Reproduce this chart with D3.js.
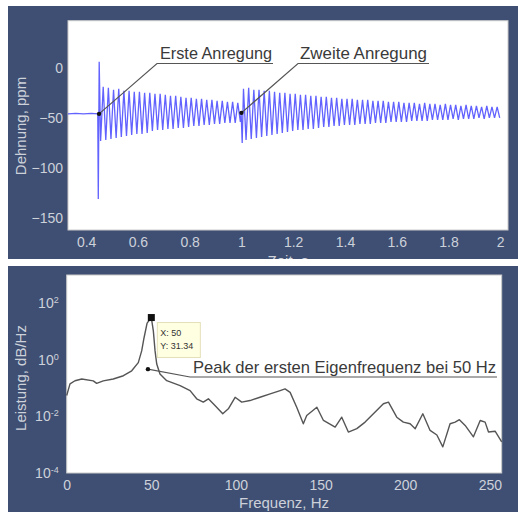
<!DOCTYPE html>
<meta charset="utf-8">
<style>
    body { margin: 0; background: #fff; }
    .tick text { fill: #cdd1da; font-family: "Liberation Sans", Arial, sans-serif; font-size: 14px; }
    .axis-label { fill: #cdd1da; font-family: "Liberation Sans", Arial, sans-serif; font-size: 15px; }
    .note { fill: #3a3a3a; font-family: "Liberation Sans Narrow", "Liberation Sans", sans-serif; font-size: 17px; }
    .tip { fill: #333; font-family: "Liberation Sans", Arial, sans-serif; font-size: 9px; }
</style>
<body>
<svg width="518" height="512"></svg>
</body>
<script src="https://cdn.jsdelivr.net/npm/d3@7"></script>
<script>

    // strain signal, peaks and troughs [time s, ppm]
    var strainBefore = [[0.33, -46], [0.36, -45.5], [0.39, -46], [0.42, -45.5], [0.445, -46]];
    var strainImpulse = [[0.447, -131], [0.4505, 6], [0.456, -73]];
    var strainFirst = [
        [0.466, -19], [0.476, -72], [0.486, -20], [0.496, -71], [0.506, -22], [0.516, -70],
        [0.526, -21], [0.536, -69], [0.546, -23], [0.556, -68], [0.566, -23], [0.576, -67],
        [0.586, -24], [0.596, -66], [0.606, -24], [0.616, -66], [0.626, -25], [0.636, -65],
        [0.646, -25], [0.656, -63], [0.666, -26], [0.676, -62], [0.686, -26], [0.696, -62],
        [0.706, -27], [0.716, -61], [0.726, -28], [0.736, -61], [0.746, -28], [0.756, -60],
        [0.766, -29], [0.776, -60], [0.786, -30], [0.796, -59], [0.806, -30], [0.816, -58],
        [0.826, -31], [0.836, -58], [0.846, -31], [0.856, -57], [0.866, -32], [0.876, -57],
        [0.886, -32], [0.896, -56], [0.906, -33], [0.916, -56], [0.926, -33], [0.936, -55],
        [0.946, -34], [0.956, -55], [0.966, -34], [0.976, -55], [0.986, -35], [0.996, -54]
    ];
    var strainSecond = [
        [0.999, -46], [1.003, -75],
        [1.008, -21], [1.018, -72], [1.028, -20], [1.038, -71], [1.048, -22], [1.058, -70],
        [1.068, -22], [1.078, -69], [1.088, -23], [1.098, -68], [1.108, -23], [1.118, -67],
        [1.128, -24], [1.138, -66], [1.148, -25], [1.158, -65], [1.168, -25], [1.178, -64],
        [1.188, -26], [1.198, -63], [1.208, -26], [1.218, -62], [1.228, -27], [1.238, -62],
        [1.248, -27], [1.258, -61], [1.268, -28], [1.278, -61], [1.288, -28], [1.298, -60],
        [1.308, -29], [1.318, -59], [1.328, -29], [1.338, -59], [1.348, -30], [1.358, -58],
        [1.368, -30], [1.378, -58], [1.388, -31], [1.398, -57], [1.408, -31], [1.418, -57],
        [1.428, -31], [1.438, -57], [1.448, -32], [1.458, -56], [1.468, -32], [1.478, -56],
        [1.488, -32], [1.498, -56], [1.508, -33], [1.518, -55], [1.528, -33], [1.538, -55],
        [1.548, -33], [1.558, -55], [1.568, -34], [1.578, -54], [1.588, -34], [1.598, -54],
        [1.608, -34], [1.618, -54], [1.628, -35], [1.638, -54], [1.648, -35], [1.658, -53],
        [1.668, -35], [1.678, -53], [1.688, -36], [1.698, -53], [1.708, -35], [1.718, -53],
        [1.728, -36], [1.738, -52], [1.748, -36], [1.758, -52], [1.768, -37], [1.778, -52],
        [1.788, -36], [1.798, -52], [1.808, -37], [1.818, -51], [1.828, -37], [1.838, -52],
        [1.848, -38], [1.858, -51], [1.868, -37], [1.878, -51], [1.888, -38], [1.898, -51],
        [1.908, -38], [1.918, -50], [1.928, -39], [1.938, -51], [1.948, -38], [1.958, -50],
        [1.968, -39], [1.978, -50], [1.988, -39], [1.998, -50]
    ];
    var timeTicks = [0.4, 0.6, 0.8, 1, 1.2, 1.4, 1.6, 1.8, 2];
    var strainTicks = [-150, -100, -50, 0];

    // power spectrum [Hz, value]
    var spectrum = [
        [0, 0.055], [1.95, 0.141], [4.9, 0.183], [8.9, 0.21], [15.7, 0.18], [17.7, 0.147],
        [21.6, 0.18], [27.5, 0.21], [33.5, 0.275], [38.4, 0.41], [42.3, 0.8], [44.3, 2.07],
        [45.7, 6.05], [47.5, 20], [50, 31.34], [51.2, 10.4], [52.2, 2.07], [53.2, 0.71],
        [55.1, 0.315], [59.1, 0.183], [67, 0.122], [72.9, 0.082], [76.8, 0.042], [80.7, 0.032],
        [83.7, 0.042], [87.6, 0.0243], [92.2, 0.0124], [95.5, 0.0186], [99.5, 0.0475], [103.4, 0.032],
        [108.3, 0.0364], [114.2, 0.0475], [120.2, 0.0625], [126.1, 0.082], [129, 0.094], [132, 0.071],
        [135.9, 0.0212], [139.8, 0.0055], [141.8, 0.0108], [147.8, 0.0212], [151.7, 0.0072], [158.6, 0.0042],
        [162.5, 0.0094], [166.4, 0.0028], [171.4, 0.0037], [176.3, 0.0063], [181.2, 0.0124], [187.1, 0.028],
        [190.1, 0.032], [195, 0.0094], [198.9, 0.0063], [202.9, 0.0055], [205.9, 0.0037], [210.4, 0.0124],
        [214.7, 0.0032], [218.7, 0.0022], [222.2, 0.00084], [226.5, 0.0055], [229.5, 0.0063], [232, 0.0077],
        [235.4, 0.0048], [240.3, 0.0019], [244.3, 0.0072], [247.2, 0.0063], [249.2, 0.0028], [253.1, 0.003],
        [257, 0.00126]
    ];
    var freqTicks = [0, 50, 100, 150, 200, 250];
    var powerTicks = [1e-4, 1e-2, 1, 1e2];
    var peak = {f: 50, p: 31.34};

    var svg = d3.select("svg");
    var panelColor = "#3e4f73";

    // ---------- top panel ----------
    svg.append("clipPath").attr("id", "clipTop")
        .append("rect").attr("x", 8).attr("y", 6).attr("width", 510).attr("height", 253);
    var topPanel = svg.append("g").attr("clip-path", "url(#clipTop)");
    topPanel.append("rect").attr("x", 8).attr("y", 6).attr("width", 510).attr("height", 253).attr("fill", panelColor);

    var x1 = d3.scaleLinear().domain([0.33, 2.03]).range([68, 508]);
    var y1 = d3.scaleLinear().domain([-162, 47]).range([230, 20.7]);

    topPanel.append("rect")
        .attr("x", x1.range()[0]).attr("y", y1.range()[1])
        .attr("width", x1.range()[1] - x1.range()[0]).attr("height", y1.range()[0] - y1.range()[1])
        .attr("fill", "#fff").attr("stroke", "#c9c9c9");

    var strain = strainBefore.concat(strainImpulse, strainFirst, strainSecond);
    var line1 = d3.line().x(function (d) { return x1(d[0]); }).y(function (d) { return y1(d[1]); });
    topPanel.append("path").datum(strain)
        .attr("d", line1)
        .attr("fill", "none")
        .attr("stroke", "#4646ff")
        .attr("stroke-opacity", 0.85)
        .attr("stroke-width", 1.3);

    topPanel.append("g").attr("transform", "translate(0," + y1.range()[0] + ")")
        .call(d3.axisBottom(x1).tickValues(timeTicks).tickSize(0).tickPadding(7).tickFormat(d3.format("")))
        .call(function (g) { g.select(".domain").remove(); });
    topPanel.append("g").attr("transform", "translate(" + x1.range()[0] + ",0)")
        .call(d3.axisLeft(y1).tickValues(strainTicks).tickSize(0).tickPadding(5))
        .call(function (g) { g.select(".domain").remove(); });

    topPanel.append("text").attr("class", "axis-label")
        .attr("transform", "translate(26,126) rotate(-90)")
        .attr("text-anchor", "middle").text("Dehnung, ppm");
    topPanel.append("text").attr("class", "axis-label")
        .attr("x", 288).attr("y", 266).attr("text-anchor", "middle").text("Zeit, s");

    // callouts
    var callouts = [
        {t: 0.45, v: -46, lx: 157, tx: 160, tw: 112, ex: 273, label: "Erste Anregung"},
        {t: 1.0, v: -45, lx: 298, tx: 300, tw: 127, ex: 429, label: "Zweite Anregung"}
    ];
    callouts.forEach(function (c) {
        topPanel.append("polyline")
            .attr("points", [[x1(c.t), y1(c.v)], [c.lx, 63.5], [c.ex, 63.5]].join(" "))
            .attr("fill", "none").attr("stroke", "#555").attr("stroke-width", 1.2);
        topPanel.append("circle").attr("cx", x1(c.t)).attr("cy", y1(c.v)).attr("r", 2.2).attr("fill", "#111");
        topPanel.append("text").attr("class", "note")
            .attr("x", c.tx).attr("y", 59)
            .attr("textLength", c.tw).attr("lengthAdjust", "spacingAndGlyphs")
            .text(c.label);
    });

    // ---------- bottom panel ----------
    svg.append("rect").attr("x", 8).attr("y", 266).attr("width", 510).attr("height", 246).attr("fill", panelColor);

    var x2 = d3.scaleLinear().domain([0, 257]).range([66.7, 501.7]);
    var y2 = d3.scaleLog().domain([1e-4, 1e3]).range([473, 275]);

    svg.append("rect")
        .attr("x", x2.range()[0]).attr("y", y2.range()[1])
        .attr("width", x2.range()[1] - x2.range()[0]).attr("height", y2.range()[0] - y2.range()[1])
        .attr("fill", "#fff").attr("stroke", "#c9c9c9");

    var line2 = d3.line().x(function (d) { return x2(d[0]); }).y(function (d) { return y2(d[1]); });
    svg.append("path").datum(spectrum)
        .attr("d", line2)
        .attr("fill", "none")
        .attr("stroke", "#555")
        .attr("stroke-width", 1.4)
        .attr("stroke-linejoin", "round");

    svg.append("g").attr("transform", "translate(0," + y2.range()[0] + ")")
        .call(d3.axisBottom(x2).tickValues(freqTicks).tickSize(0).tickPadding(7))
        .call(function (g) { g.select(".domain").remove(); });
    var yAx = svg.append("g").attr("transform", "translate(" + x2.range()[0] + ",0)")
        .call(d3.axisLeft(y2).tickValues(powerTicks).tickSize(0).tickPadding(8))
        .call(function (g) { g.select(".domain").remove(); });
    yAx.selectAll(".tick text").each(function (d) {
        var t = d3.select(this).text("10");
        t.append("tspan").attr("dy", "-0.55em").attr("font-size", "9px")
            .text(Math.round(Math.log10(d)));
    });

    svg.append("text").attr("class", "axis-label")
        .attr("transform", "translate(26,378) rotate(-90)")
        .attr("text-anchor", "middle").text("Leistung, dB/Hz");
    svg.append("text").attr("class", "axis-label")
        .attr("x", 284).attr("y", 508).attr("text-anchor", "middle").text("Frequenz, Hz");

    // peak marker and data tip
    svg.append("rect")
        .attr("x", x2(peak.f) - 3.5).attr("y", y2(peak.p) - 3.5)
        .attr("width", 7).attr("height", 7).attr("fill", "#111");
    svg.append("rect")
        .attr("x", x2(peak.f) + 6).attr("y", y2(peak.p) + 5)
        .attr("width", 43).attr("height", 35)
        .attr("fill", "#ffffe1").attr("stroke", "#e3e0b8");
    svg.append("text").attr("class", "tip")
        .attr("x", x2(peak.f) + 9).attr("y", y2(peak.p) + 18).text("X: " + peak.f);
    svg.append("text").attr("class", "tip")
        .attr("x", x2(peak.f) + 9).attr("y", y2(peak.p) + 31).text("Y: " + peak.p);

    // annotation
    svg.append("polyline")
        .attr("points", [[x2(48), y2(0.47)], [190, 377], [497, 377]].join(" "))
        .attr("fill", "none").attr("stroke", "#555").attr("stroke-width", 1.2);
    svg.append("circle").attr("cx", x2(48)).attr("cy", y2(0.47)).attr("r", 2.2).attr("fill", "#111");
    svg.append("text").attr("class", "note")
        .attr("x", 193).attr("y", 373)
        .attr("textLength", 303).attr("lengthAdjust", "spacingAndGlyphs")
        .text("Peak der ersten Eigenfrequenz bei 50 Hz");

</script>
